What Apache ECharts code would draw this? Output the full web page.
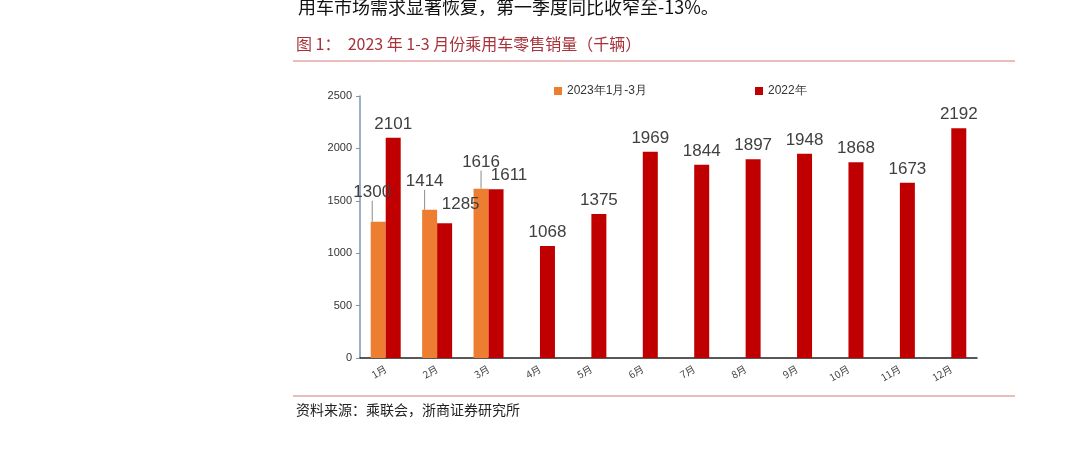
<!DOCTYPE html>
<html>
<head>
<meta charset="utf-8">
<script src="https://cdn.jsdelivr.net/npm/echarts@6/dist/echarts.min.js"></script>
<style>
  html, body { margin: 0; padding: 0; background: #fff; }
  #main { width: 1080px; height: 459px; }
</style>
</head>
<body>
<div id="main"></div>
<script>
 // 月份
 var months = ['1月','2月','3月','4月','5月','6月','7月','8月','9月','10月','11月','12月'];
 // 2023年1-3月零售销量（千辆）
 var sales2023 = [1300, 1414, 1616, null, null, null, null, null, null, null, null, null];
 // 2022年零售销量（千辆）
 var sales2022 = [2101, 1285, 1611, 1068, 1375, 1969, 1844, 1897, 1948, 1868, 1673, 2192];
 var yTicks = [0, 500, 1000, 1500, 2000, 2500];

 var cjk = '"Noto Sans CJK SC", sans-serif';
 var arial = '"Liberation Sans", Arial, sans-serif';

 // 标签偏移（避免重叠）
 var shift2023 = { 0: [-6, -16], 1: [-5, -15], 2: [0, -13] };
 var shift2022 = { 1: [16, -6], 2: [13, 0] };

 function makeOption() {
   var option = {
     animation: false,
     color: ['#ed7d31', '#c00000'],
     grid: { left: 360, right: 103, top: 96, bottom: 101 },
     legend: [
       {
         left: 549, top: 80, itemWidth: 8, itemHeight: 8,
         icon: 'rect', data: ['2023年1月-3月'],
         textStyle: { fontSize: 12, color: '#333', fontFamily: arial }
       },
       {
         left: 750, top: 80, itemWidth: 8, itemHeight: 8,
         icon: 'rect', data: ['2022年'],
         textStyle: { fontSize: 12, color: '#333', fontFamily: arial }
       }
     ],
     graphic: [
       {
         type: 'text', left: 298, top: -2,
         style: { text: '用车市场需求显著恢复，第一季度同比收窄至-13%。', fontSize: 18, fill: '#111', fontFamily: cjk }
       },
       {
         type: 'text', left: 296, top: 36,
         style: { text: '图 1：  2023 年 1-3 月份乘用车零售销量（千辆）', fontSize: 16, fill: '#a8323a', fontFamily: cjk }
       },
       {
         type: 'line', shape: { x1: 293, y1: 61, x2: 1015, y2: 61 },
         style: { stroke: '#d8797b', lineWidth: 1 }
       },
       {
         type: 'line', shape: { x1: 293, y1: 396, x2: 1015, y2: 396 },
         style: { stroke: '#d8797b', lineWidth: 1 }
       },
       {
         type: 'text', left: 296, top: 403,
         style: { text: '资料来源：乘联会，浙商证券研究所', fontSize: 14, fill: '#222', fontFamily: cjk }
       }
     ],
     xAxis: {
       type: 'category',
       data: months,
       axisLine: { lineStyle: { color: '#222', width: 1.5 } },
       axisTick: { inside: true, length: 4, lineStyle: { color: '#222' } },
       axisLabel: { rotate: 30, fontSize: 10, color: '#444', fontFamily: cjk, margin: 10 }
     },
     yAxis: {
       type: 'value',
       min: yTicks[0],
       max: yTicks[yTicks.length - 1],
       interval: 500,
       splitLine: { show: false },
       axisLine: { show: true, lineStyle: { color: '#7d95b0', width: 1.5 } },
       axisTick: { show: true, length: 4, lineStyle: { color: '#7d95b0' } },
       axisLabel: {
         fontSize: 11, color: '#333', fontFamily: arial, margin: 8,
         formatter: function (v) { return String(v); }
       }
     },
     series: [
       {
         name: '2023年1月-3月',
         type: 'bar',
         data: sales2023,
         barWidth: 15,
         barGap: '0%',
         label: {
           show: true, position: 'top', distance: 5,
           fontSize: 17, color: '#404040', fontFamily: arial
         },
         labelLine: { show: true, lineStyle: { color: '#8c8c8c', width: 1 } },
         labelLayout: function (p) {
           var s = shift2023[p.dataIndex];
           return s ? { dx: s[0], dy: s[1] } : {};
         }
       },
       {
         name: '2022年',
         type: 'bar',
         data: sales2022,
         barWidth: 15,
         barGap: '0%',
         label: {
           show: true, position: 'top', distance: 5,
           fontSize: 17, color: '#404040', fontFamily: arial
         },
         labelLayout: function (p) {
           var s = shift2022[p.dataIndex];
           return s ? { dx: s[0], dy: s[1] } : {};
         }
       }
     ]
   };
   return option;
 }

 var myChart = echarts.init(document.getElementById('main'));
 myChart.setOption(makeOption());
</script>
</body>
</html>
